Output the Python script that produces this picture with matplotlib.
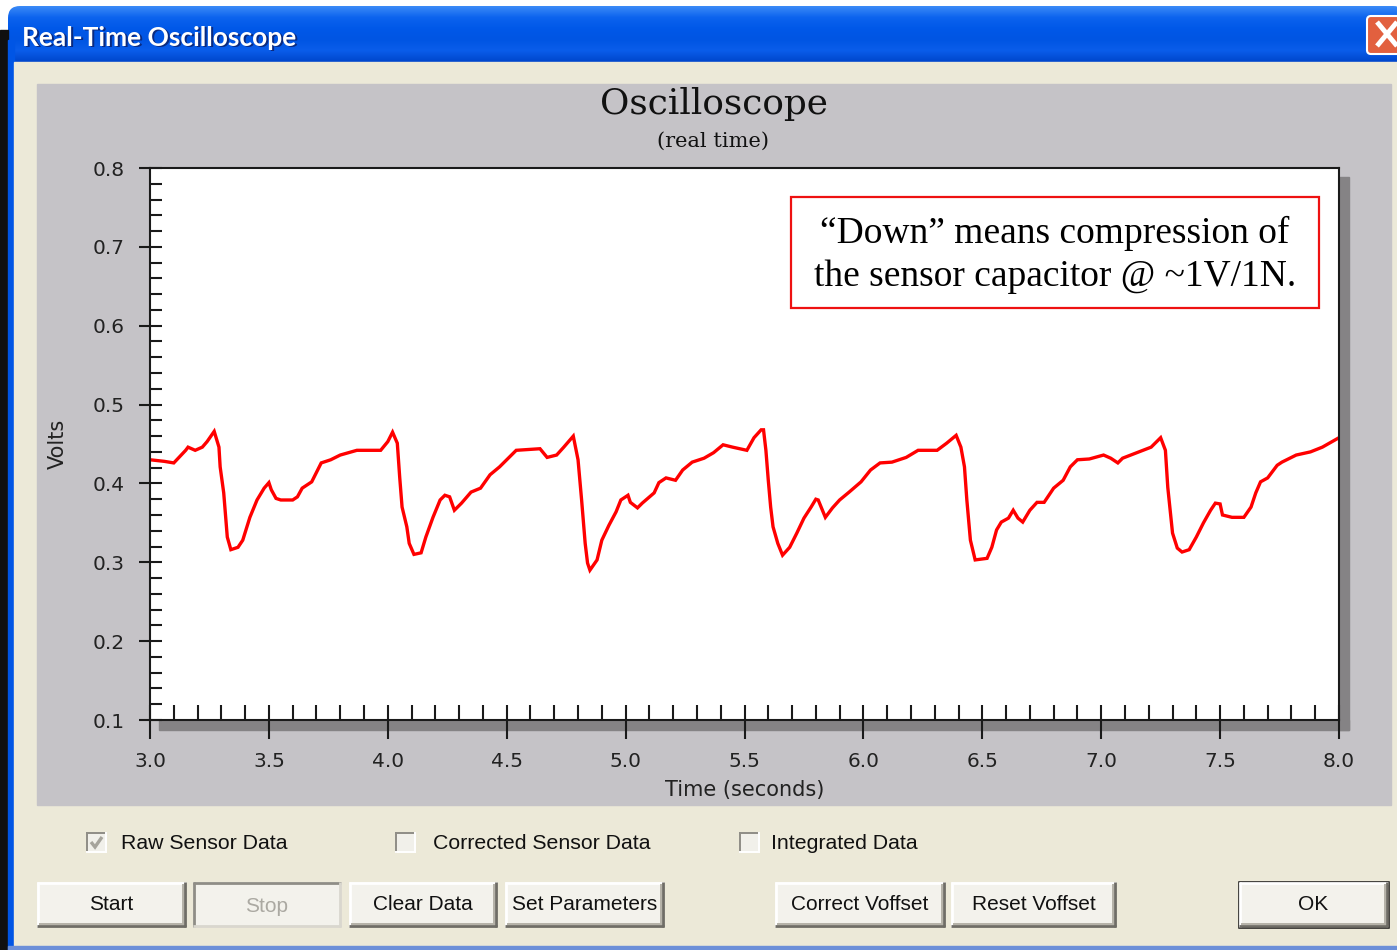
import matplotlib
matplotlib.use('Agg')
import matplotlib.pyplot as plt
import numpy as np
from matplotlib.patches import Rectangle, FancyBboxPatch
from matplotlib.ticker import MultipleLocator, FormatStrFormatter
from matplotlib.colors import LinearSegmentedColormap

# ---------------- data ----------------
time_s = [3.00, 3.06, 3.10, 3.15, 3.16, 3.19, 3.22, 3.24, 3.27, 3.29, 3.295, 3.31, 3.32, 3.325, 3.34,
          3.37, 3.39, 3.42, 3.45, 3.48, 3.50, 3.51, 3.53, 3.55, 3.60, 3.62, 3.64, 3.68, 3.70, 3.72,
          3.76, 3.80, 3.87, 3.97, 4.00, 4.02, 4.04, 4.05, 4.06, 4.08, 4.09, 4.11, 4.14, 4.16, 4.19,
          4.22, 4.24, 4.26, 4.28, 4.31, 4.35, 4.39, 4.43, 4.47, 4.51, 4.54, 4.64, 4.67, 4.71, 4.74,
          4.78, 4.80, 4.815, 4.83, 4.84, 4.85, 4.88, 4.90, 4.93, 4.96, 4.98, 5.01, 5.02, 5.05, 5.07,
          5.12, 5.14, 5.17, 5.21, 5.24, 5.28, 5.33, 5.37, 5.41, 5.45, 5.51, 5.54, 5.57, 5.58, 5.59,
          5.60, 5.61, 5.62, 5.64, 5.66, 5.69, 5.72, 5.75, 5.78, 5.80, 5.81, 5.84, 5.87, 5.90, 5.94,
          5.99, 6.03, 6.07, 6.12, 6.18, 6.23, 6.31, 6.35, 6.39, 6.41, 6.425, 6.435, 6.45, 6.47, 6.52,
          6.54, 6.56, 6.58, 6.61, 6.63, 6.65, 6.67, 6.70, 6.73, 6.76, 6.80, 6.84, 6.87, 6.90, 6.95,
          7.01, 7.04, 7.07, 7.09, 7.15, 7.21, 7.25, 7.27, 7.28, 7.29, 7.30, 7.32, 7.34, 7.37, 7.40,
          7.43, 7.46, 7.48, 7.50, 7.51, 7.55, 7.60, 7.63, 7.65, 7.67, 7.70, 7.74, 7.76, 7.82, 7.88,
          7.93, 8.00]
volts = [0.430, 0.428, 0.426, 0.442, 0.446, 0.442, 0.446, 0.453, 0.466, 0.446, 0.421, 0.388, 0.350, 0.332, 0.316,
         0.319, 0.328, 0.357, 0.379, 0.394, 0.401, 0.392, 0.381, 0.379, 0.379, 0.383, 0.394, 0.402, 0.414, 0.426,
         0.430, 0.436, 0.442, 0.442, 0.453, 0.465, 0.451, 0.408, 0.370, 0.345, 0.324, 0.310, 0.312, 0.332, 0.357,
         0.379, 0.385, 0.383, 0.366, 0.375, 0.389, 0.394, 0.411, 0.421, 0.433, 0.442, 0.444, 0.433, 0.436, 0.446,
         0.460, 0.430, 0.379, 0.324, 0.299, 0.290, 0.303, 0.328, 0.347, 0.364, 0.379, 0.385, 0.376, 0.369, 0.375,
         0.388, 0.401, 0.407, 0.404, 0.417, 0.427, 0.432, 0.439, 0.449, 0.446, 0.442, 0.458, 0.468, 0.468, 0.442,
         0.404, 0.370, 0.345, 0.324, 0.309, 0.319, 0.337, 0.356, 0.370, 0.380, 0.379, 0.357, 0.369, 0.379, 0.389,
         0.402, 0.417, 0.426, 0.427, 0.433, 0.442, 0.442, 0.451, 0.461, 0.446, 0.421, 0.379, 0.328, 0.303, 0.305,
         0.319, 0.341, 0.351, 0.356, 0.366, 0.356, 0.351, 0.366, 0.376, 0.376, 0.394, 0.404, 0.421, 0.430, 0.431,
         0.436, 0.432, 0.426, 0.432, 0.439, 0.446, 0.458, 0.442, 0.395, 0.366, 0.337, 0.318, 0.313, 0.316, 0.332,
         0.350, 0.366, 0.375, 0.374, 0.360, 0.357, 0.357, 0.370, 0.388, 0.402, 0.407, 0.423, 0.427, 0.436, 0.440,
         0.446, 0.458]
assert len(time_s) == len(volts)

window_title = 'Real-Time Oscilloscope'
chart_title = 'Oscilloscope'
chart_subtitle = '(real time)'
x_label = 'Time (seconds)'
y_label = 'Volts'
note_text = '\u201cDown\u201d means compression of\nthe sensor capacitor @ ~1V/1N.'
checkbox_labels = ['Raw Sensor Data', 'Corrected Sensor Data', 'Integrated Data']
checkbox_checked = [True, False, False]
button_labels = ['Start', 'Stop', 'Clear Data', 'Set Parameters', 'Correct Voffset', 'Reset Voffset', 'OK']

# ---------------- figure ----------------
W, H = 1397, 950
fig = plt.figure(figsize=(W / 100, H / 100), dpi=100)
fig.patch.set_facecolor('white')

bg = fig.add_axes([0, 0, 1, 1], zorder=0)
bg.set_xlim(0, W); bg.set_ylim(H, 0); bg.axis('off')

BEIGE = '#ECE9D8'
PANEL = '#C5C3C7'
SHADOW = '#858385'

# window frame
bg.add_patch(Rectangle((0, 30), 8, H - 30, color='#101010'))
bg.add_patch(Rectangle((8, 40), 6, H - 40, color='#0055E5'))
bg.add_patch(Rectangle((14, 62), W - 14, H - 62 - 4, color=BEIGE))
bg.add_patch(Rectangle((8, H - 4), W - 8, 4, color='#6C8FD8'))

# title bar gradient
cmap = LinearSegmentedColormap.from_list(
    'tb', ['#3A8AF7', '#0C63EE', '#0058E8', '#0055E3', '#0A5DEA', '#0046CC'])
grad = np.linspace(0, 1, 64).reshape(-1, 1)
im = bg.imshow(grad, cmap=cmap, extent=[8, W, 62, 6], origin='upper',
               aspect='auto', interpolation='bilinear')
clip = FancyBboxPatch((8, 6), W, 80, boxstyle='round,pad=0,rounding_size=12',
                      facecolor='none', edgecolor='none')
bg.add_patch(clip)
im.set_clip_path(clip)
bg.set_xlim(0, W); bg.set_ylim(H, 0)

bg.text(23.5, 39, window_title, color='#0A2A80', fontsize=19, fontweight='bold',
        family='Lato', va='center', ha='left')
bg.text(22, 37.5, window_title, color='white', fontsize=19, fontweight='bold',
        family='Lato', va='center', ha='left')

# close button
bg.add_patch(FancyBboxPatch((1367, 16), 40, 38, boxstyle='round,pad=0,rounding_size=4',
                            facecolor='#E2603F', edgecolor='white', lw=1.5))
bg.plot([1377, 1397], [22, 46], color='white', lw=3.5, solid_capstyle='butt')
bg.plot([1377, 1397], [46, 22], color='white', lw=3.5, solid_capstyle='butt')

# gray chart panel + drop shadow of plot frame
bg.add_patch(Rectangle((37, 84), 1391 - 37, 805 - 84, color=PANEL))
bg.add_patch(Rectangle((1339, 177), 10, 553, color=SHADOW))
bg.add_patch(Rectangle((159, 720), 1190, 10, color=SHADOW))

bg.text(714, 104, chart_title, family='DejaVu Serif', fontsize=25.8, color='#111111',
        ha='center', va='center')
bg.text(713, 141, chart_subtitle, family='DejaVu Serif', fontsize=15, color='#111111',
        ha='center', va='center')

# ---------------- plot ----------------
ax = fig.add_axes([150 / W, (H - 720) / H, 1189 / W, 552 / H], zorder=2)
ax.set_facecolor('white')
ax.plot(time_s, volts, color='#FF0000', lw=2.4, solid_joinstyle='miter')
ax.set_xlim(3, 8)
ax.set_ylim(0.1, 0.8)
ax.xaxis.set_major_locator(MultipleLocator(0.5))
ax.xaxis.set_minor_locator(MultipleLocator(0.1))
ax.yaxis.set_major_locator(MultipleLocator(0.1))
ax.yaxis.set_minor_locator(MultipleLocator(0.02))
ax.xaxis.remove_overlapping_locs = False
ax.yaxis.remove_overlapping_locs = False
ax.xaxis.set_major_formatter(FormatStrFormatter('%.1f'))
ax.yaxis.set_major_formatter(FormatStrFormatter('%.1f'))
tc = '#1A1A1A'
ax.tick_params(axis='x', which='major', direction='out', length=13.7, width=1.5, pad=9,
               labelsize=14.5, labelcolor='#222222', color=tc)
ax.tick_params(axis='x', which='minor', direction='in', length=10.5, width=1.5, color=tc)
ax.tick_params(axis='y', which='major', direction='out', length=8, width=1.5, pad=10.5,
               labelsize=14.5, labelcolor='#222222', color=tc)
ax.tick_params(axis='y', which='minor', direction='in', length=8.6, width=1.5, color=tc)
for s in ax.spines.values():
    s.set_linewidth(1.5)
    s.set_color(tc)
ax.set_xlabel(x_label, fontsize=15, color='#222222')
ax.xaxis.set_label_coords(0.5, (720 - 790) / 552)
ax.xaxis.label.set_va('center')
ax.set_ylabel(y_label, fontsize=15, color='#222222')
ax.yaxis.set_label_coords((58 - 150) / 1189, 0.5)
ax.yaxis.label.set_va('center')

# ---------------- overlay: note box ----------------
fg = fig.add_axes([0, 0, 1, 1], zorder=3)
fg.set_xlim(0, W); fg.set_ylim(H, 0); fg.axis('off')
fg.patch.set_alpha(0)
fg.add_patch(Rectangle((791, 197), 1319 - 791, 308 - 197, facecolor='white',
                       edgecolor='#EE1111', lw=1.6))
fg.text(1055, 255, note_text, family='Liberation Serif', fontsize=27, color='black',
        ha='center', va='center', linespacing=1.32, multialignment='center')

# ---------------- dialog controls ----------------
UI_FONT = 'Liberation Sans'


def hline(x0, x1, y, c, lw=1.4):
    bg.plot([x0, x1], [y, y], color=c, lw=lw, solid_capstyle='butt')


def vline(x, y0, y1, c, lw=1.4):
    bg.plot([x, x], [y0, y1], color=c, lw=lw, solid_capstyle='butt')


def checkbox(x0, y0, label, tx, checked):
    s = 21
    bg.add_patch(Rectangle((x0, y0), s, s, facecolor='#F1F0EA', edgecolor='none'))
    hline(x0, x0 + s, y0 + 1, '#8F8D86')
    vline(x0 + 1, y0, y0 + s, '#8F8D86')
    hline(x0, x0 + s, y0 + s - 1, 'white')
    vline(x0 + s - 1, y0, y0 + s, 'white')
    if checked:
        bg.plot([x0 + 5, x0 + 9, x0 + 16], [y0 + 10, y0 + 15, y0 + 5],
                color='#A6A49C', lw=2.4, solid_capstyle='butt', solid_joinstyle='miter')
    bg.text(tx, y0 + s / 2 + 1, label, family=UI_FONT, fontsize=15.3, color='#111111',
            ha='left', va='center')


def button(x0, x1, label, state='normal'):
    y0, y1 = 882, 927
    bg.add_patch(Rectangle((x0, y0), x1 - x0, y1 - y0, facecolor='#F3F2EC', edgecolor='none'))
    if state == 'disabled':
        hline(x0, x1, y0 + 1, '#8F8D86', 2)
        vline(x0 + 1, y0, y1, '#8F8D86', 2)
        hline(x0, x1, y1 - 1, '#D9D7CE', 2)
        vline(x1 - 1, y0, y1, '#D9D7CE', 2)
        col = '#ABA9A2'
    else:
        hline(x0, x1, y0 + 1, 'white', 2)
        vline(x0 + 1, y0, y1, 'white', 2)
        hline(x0, x1, y1 - 1, '#6F6D66', 2)
        vline(x1 - 1, y0, y1, '#6F6D66', 2)
        hline(x0 + 2, x1 - 2, y1 - 3, '#B5B2A8', 1.4)
        vline(x1 - 3, y0 + 2, y1 - 2, '#B5B2A8', 1.4)
        col = '#111111'
    if state == 'default':
        bg.add_patch(Rectangle((x0, y0), x1 - x0, y1 - y0, facecolor='none',
                               edgecolor='#111111', lw=1.8))
    bg.text((x0 + x1) / 2, (y0 + y1) / 2 + (2 if state == 'disabled' else 0), label,
            family=UI_FONT, fontsize=15, color=col, ha='center', va='center')


checkbox(86, 832, checkbox_labels[0], 121, checkbox_checked[0])
checkbox(395, 832, checkbox_labels[1], 433, checkbox_checked[1])
checkbox(739, 832, checkbox_labels[2], 771, checkbox_checked[2])

button_x = [(37, 186), (193, 341), (349, 497), (505, 664), (775, 945), (951, 1116), (1239, 1388)]
button_state = ['normal', 'disabled', 'normal', 'normal', 'normal', 'normal', 'default']
for (a, b), lab, st in zip(button_x, button_labels, button_state):
    button(a, b, lab, st)

fig.savefig('out.png', dpi=100)
